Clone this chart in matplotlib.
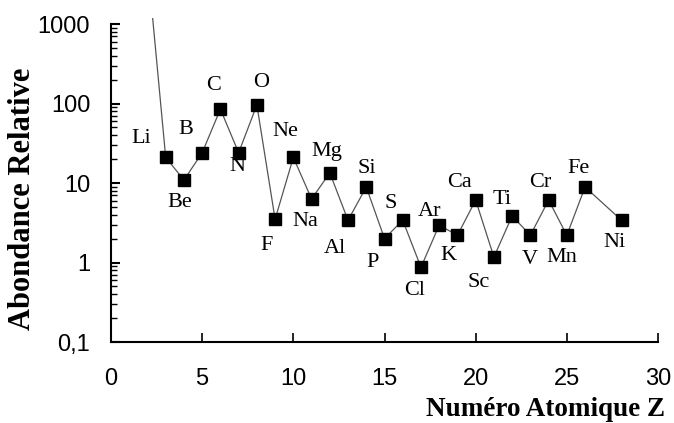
import matplotlib
matplotlib.use("Agg")
import matplotlib.pyplot as plt
from matplotlib.ticker import FixedLocator, FixedFormatter, LogLocator, NullFormatter
from matplotlib.transforms import Bbox, TransformedBbox

# atomic number, element, relative abundance
z = [3, 4, 5, 6, 7, 8, 9, 10, 11, 12, 13, 14, 15, 16, 17, 18, 19, 20, 21, 22, 23, 24, 25, 26, 28]
symbols = ["Li", "Be", "B", "C", "N", "O", "F", "Ne", "Na", "Mg", "Al", "Si", "P", "S", "Cl",
           "Ar", "K", "Ca", "Sc", "Ti", "V", "Cr", "Mn", "Fe", "Ni"]
abundance = [21, 10.9, 24, 85, 24, 96, 3.5, 21, 6.3, 13.4, 3.4, 8.9, 2.0, 3.4, 0.87,
             2.95, 2.2, 6.1, 1.17, 3.85, 2.2, 6.1, 2.2, 8.9, 3.4]
# helium, off the top of the chart
he_z, he_val = 2, 5900

# label offsets in pixels (dx, dy)
offsets = [(-24, 19), (-4, -22), (-16, 23), (-7, 24), (-1, -14), (4, 22), (-9, -26), (-8, 26),
           (-6, -23), (-3, 21), (-13, -28), (1, 19), (-12, -24), (-12, 17), (-6, -23),
           (-10, 14), (-9, -20), (-16, 18), (-15, -25), (-10, 16), (-1, -24), (-8, 18),
           (-5, -22), (-7, 19), (-7, -22)]

ytick_vals = [0.1, 1, 10, 100, 1000]
ytick_text = ["0,1", "1", "10", "100", "1000"]
xtick_vals = [0, 5, 10, 15, 20, 25, 30]

fig = plt.figure(figsize=(6.74, 4.23), dpi=100)
ax = fig.add_axes([111 / 674, 81 / 423, 547 / 674, 318 / 423])

# He -> Li segment, allowed to run a bit above the frame
seg, = ax.plot([he_z, z[0]], [he_val, abundance[0]], color="#555555", lw=0.9)
seg.set_clip_box(TransformedBbox(Bbox([[0, 0], [1, 1.02]]), ax.transAxes))

ax.plot(z, abundance, color="#555555", lw=0.9, marker="s", markersize=8.6,
        markerfacecolor="black", markeredgecolor="black")

for zi, v, s, (dx, dy) in zip(z, abundance, symbols, offsets):
    ax.annotate(s, (zi, v), xytext=(dx, dy), textcoords="offset pixels",
                ha="center", va="center", fontsize=16, family="Liberation Serif")

ax.set_yscale("log")
ax.set_ylim(0.1, 1000)
ax.set_xlim(0, 30)

ax.yaxis.set_major_locator(FixedLocator(ytick_vals))
ax.yaxis.set_major_formatter(FixedFormatter(ytick_text))
ax.yaxis.set_minor_locator(LogLocator(base=10, subs=range(2, 10)))
ax.yaxis.set_minor_formatter(NullFormatter())
ax.set_xticks(xtick_vals)

for sp in ["top", "right"]:
    ax.spines[sp].set_visible(False)
for sp in ["left", "bottom"]:
    ax.spines[sp].set_linewidth(1.5)

ax.tick_params(axis="y", which="major", direction="in", length=6.5, width=1.5, pad=15,
               labelsize=17)
ax.tick_params(axis="y", which="minor", direction="in", length=4.5, width=1)
ax.tick_params(axis="x", which="major", direction="in", length=6.5, width=1.2, pad=19,
               labelsize=17)
for lab in ax.get_xticklabels() + ax.get_yticklabels():
    lab.set_family("Liberation Sans")

ax.set_ylabel("Abondance Relative", fontsize=22, fontweight="bold",
              family="Liberation Serif")
ax.yaxis.label.set_va("center")
ax.yaxis.set_label_coords(-0.161, 0.45)

ax.set_xlabel("Numéro Atomique Z", fontsize=19.5, fontweight="bold",
              family="Liberation Serif")
ax.xaxis.label.set_ha("right")
ax.xaxis.label.set_va("baseline")
ax.xaxis.set_label_coords(1.0128, -0.233)

fig.savefig("out.png", dpi=100)
